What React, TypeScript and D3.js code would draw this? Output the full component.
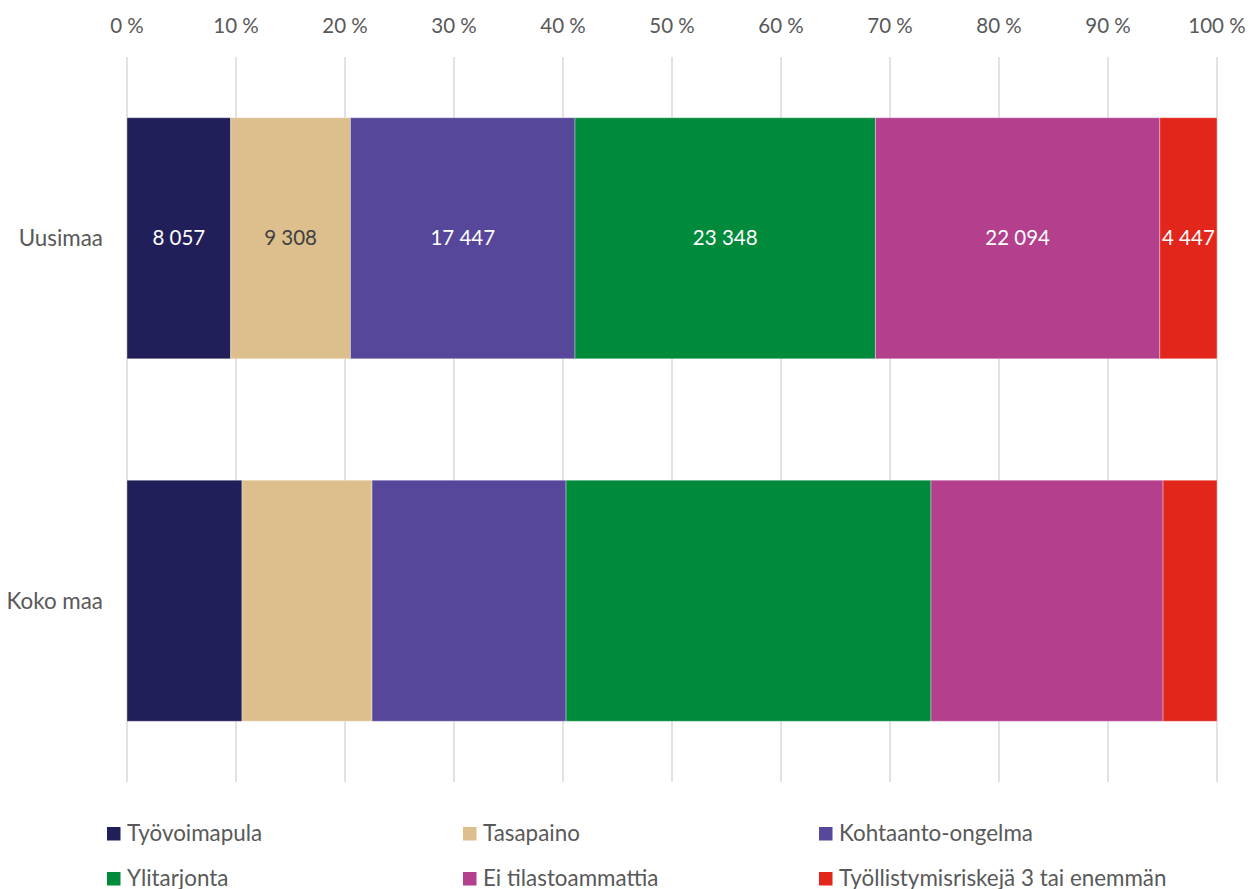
import * as d3 from 'd3';

const width = 1255;
const height = 889;

const regions = ['Uusimaa', 'Koko maa'];
const seriesNames = [
  'Työvoimapula',
  'Tasapaino',
  'Kohtaanto-ongelma',
  'Ylitarjonta',
  'Ei tilastoammattia',
  'Työllistymisriskejä 3 tai enemmän',
];
const colors = ['#211f5a', '#dcbf8c', '#56479a', '#008a3b', '#b33f8d', '#e3261c'];
const labelColors = ['#fff', '#404040', '#fff', '#fff', '#fff', '#fff'];

// Uusimaa counts (labelled), Koko maa shares (%)
const uusimaa = [8057, 9308, 17447, 23348, 22094, 4447];
const kokoMaa = [10.55, 11.93, 17.8, 33.48, 21.29, 4.95];
const ticks = [0, 10, 20, 30, 40, 50, 60, 70, 80, 90, 100];

const font = 'Lato, "Open Sans", sans-serif';
const grey = '#595959';

export default function App() {
  const x = d3.scaleLinear().domain([0, 100]).range([127, 1217]);
  const y = d3.scaleBand().domain(regions).range([57, 782]).paddingInner(0.335).paddingOuter(0.335 / 2);

  const rows = [uusimaa, kokoMaa].map((vals, ri) => {
    const total = d3.sum(vals);
    let acc = 0;
    return vals.map((v, i) => {
      const x0 = (acc / total) * 100;
      acc += v;
      const x1 = (acc / total) * 100;
      return { region: regions[ri], i, v, x0, x1, labelled: ri === 0 };
    });
  });

  const fmt = (n: number) => d3.format(',')(n).replace(/,/g, ' ');

  const legendCols = [107, 463, 819];
  const legendRows = [827, 872];

  return (
    <svg width={width} height={height} style={{ display: 'block', marginTop: -8, marginLeft: -8 }} fontFamily={font}>
      <rect width={width} height={height} fill="#fff" />
      {ticks.map((t) => (
        <g key={t}>
          <line x1={x(t)} x2={x(t)} y1={57} y2={782} stroke="#d9d9d9" strokeWidth={1.5} />
          <text x={x(t)} y={33} textAnchor="middle" fontSize={20.5} fill={grey}>
            {t} %
          </text>
        </g>
      ))}
      {rows.map((row, ri) => (
        <g key={ri}>
          {row.map((d) => (
            <rect
              key={d.i}
              x={x(d.x0)}
              y={y(d.region)!}
              width={x(d.x1) - x(d.x0)}
              height={y.bandwidth()}
              fill={colors[d.i]}
              stroke="#fff"
              strokeOpacity={0.35}
              strokeWidth={1}
            />
          ))}
          {row
            .filter((d) => d.labelled)
            .map((d) => (
              <text
                key={'l' + d.i}
                x={(x(d.x0) + x(d.x1)) / 2}
                y={y(d.region)! + y.bandwidth() / 2}
                dy="0.35em"
                textAnchor="middle"
                fontSize={20.5}
                fill={labelColors[d.i]}
              >
                {fmt(d.v)}
              </text>
            ))}
          <text
            x={103}
            y={y(regions[ri])! + y.bandwidth() / 2}
            dy="0.35em"
            textAnchor="end"
            fontSize={22.4}
            fill={grey}
          >
            {regions[ri]}
          </text>
        </g>
      ))}
      {seriesNames.map((name, i) => {
        const lx = legendCols[i % 3];
        const ly = legendRows[Math.floor(i / 3)];
        return (
          <g key={name}>
            <rect x={lx} y={ly} width={13.5} height={13.5} fill={colors[i]} />
            <text x={lx + 20} y={ly + 13.5} fontSize={22.4} fill={grey}>
              {name}
            </text>
          </g>
        );
      })}
    </svg>
  );
}
